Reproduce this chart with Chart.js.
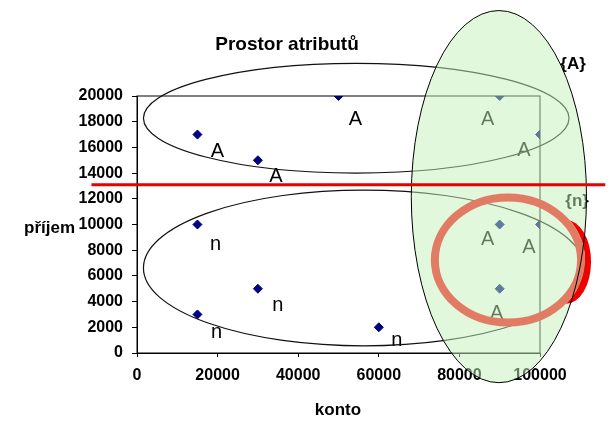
<!DOCTYPE html>
<html>
<head>
<meta charset="utf-8">
<script src="https://cdn.jsdelivr.net/npm/chart.js@4"></script>
<style>
  html, body { margin: 0; padding: 0; background: #fff; }
</style>
</head>
<body>
<canvas id="chart" width="616" height="438"></canvas>
<script>
// values
const kontoValues  = [15000, 30000, 50000, 90000, 100000, 15000, 15000, 30000, 60000, 90000, 100000, 90000];
const prijemValues = [17000, 15000, 20000, 20000, 17000, 10000, 3000, 5000, 2000, 10000, 10000, 5000];
const pointClasses = ['A', 'A', 'A', 'A', 'A', 'n', 'n', 'n', 'n', 'A', 'A', 'A'];
const xTickValues = [0, 20000, 40000, 60000, 80000, 100000];
const yTickValues = [0, 2000, 4000, 6000, 8000, 10000, 12000, 14000, 16000, 18000, 20000];

// label offsets from each point (px) and the drawn shapes (data units)
const labelOffsets = [[20, 22], [18, 22], [17, 29], [-12, 29], [-16, 21], [18, 25], [19, 24], [20, 22], [18, 19], [-12, 20], [-11, 28], [-3, 30]];
const clusterA = { cx: 54400, cy: 18270, rx: 52800, ry: 4270 };
const clusterN = { cx: 56300, cy: 6620, rx: 54700, ry: 6060 };
const selection = { cx: 89800, cy: 12170, rx: 21740, ry: 14480 };
const highlight = { cx: 92050, cy: 7240, rx: 18140, ry: 4870 };
const redMark = { cx: 106460, cy: 7090, rx: 6210, ry: 3260 };
const splitLine = { y: 13100, x0: -11300, x1: 116200 };

const sans = "'Liberation Sans', Arial, sans-serif";

const points = kontoValues.map((k, i) => ({ x: k, y: prijemValues[i] }));

function ellipsePath(ctx, x, y, e) {
  const cx = x.getPixelForValue(e.cx), cy = y.getPixelForValue(e.cy);
  const rx = Math.abs(x.getPixelForValue(e.cx + e.rx) - cx);
  const ry = Math.abs(y.getPixelForValue(e.cy + e.ry) - cy);
  ctx.beginPath();
  ctx.ellipse(cx, cy, rx, ry, 0, 0, Math.PI * 2);
  return { cx, cy, rx, ry };
}

const extras = {
  id: 'extras',
  afterDatasetsDraw(chart) {
    const { ctx, chartArea: a, scales: { x, y } } = chart;
    ctx.save();

    // plot frame
    ctx.strokeStyle = '#000';
    ctx.lineWidth = 1;
    ctx.strokeRect(a.left, a.top, a.right - a.left, a.bottom - a.top);

    // class letters beside points
    ctx.font = '20px ' + sans;
    ctx.fillStyle = '#000';
    ctx.textAlign = 'center';
    ctx.textBaseline = 'alphabetic';
    chart.getDatasetMeta(0).data.forEach((el, i) => {
      ctx.fillText(pointClasses[i], el.x + labelOffsets[i][0], el.y + labelOffsets[i][1]);
    });

    // cluster ellipses
    ctx.lineWidth = 1.2;
    ctx.strokeStyle = '#111';
    ellipsePath(ctx, x, y, clusterA); ctx.stroke();
    ellipsePath(ctx, x, y, clusterN); ctx.stroke();

    ctx.font = 'bold 17px ' + sans;
    ctx.fillStyle = '#000';
    ctx.textBaseline = 'middle';
    ctx.fillText('{A}', x.getPixelForValue(108200), y.getPixelForValue(22460));
    ctx.fillText('{n}', x.getPixelForValue(109200), y.getPixelForValue(11830));

    // selection ellipse fill (see-through)
    ellipsePath(ctx, x, y, selection);
    ctx.fillStyle = 'rgba(196, 241, 188, 0.5)';
    ctx.fill();

    // red crescent outside the ring
    ctx.save();
    const h = ellipsePath(ctx, x, y, highlight);
    ctx.beginPath();
    ctx.rect(0, 0, chart.width, chart.height);
    ctx.ellipse(h.cx, h.cy, h.rx + 4, h.ry + 4, 0, 0, Math.PI * 2);
    ctx.clip('evenodd');
    ellipsePath(ctx, x, y, redMark);
    ctx.fillStyle = '#ee0000';
    ctx.fill();
    ctx.restore();

    // salmon ring
    ellipsePath(ctx, x, y, highlight);
    ctx.strokeStyle = '#e27b64';
    ctx.lineWidth = 8;
    ctx.stroke();

    // selection outline
    ellipsePath(ctx, x, y, selection);
    ctx.strokeStyle = '#000';
    ctx.lineWidth = 1;
    ctx.stroke();

    // red split line
    ctx.beginPath();
    ctx.moveTo(x.getPixelForValue(splitLine.x0), y.getPixelForValue(splitLine.y));
    ctx.lineTo(x.getPixelForValue(splitLine.x1), y.getPixelForValue(splitLine.y));
    ctx.strokeStyle = '#e60000';
    ctx.lineWidth = 3;
    ctx.stroke();

    // titles
    ctx.fillStyle = '#000';
    ctx.textBaseline = 'alphabetic';
    ctx.font = 'bold 19px ' + sans;
    ctx.textAlign = 'center';
    ctx.fillText('Prostor atributů', 287, 50);
    ctx.font = 'bold 17px ' + sans;
    ctx.fillText('konto', 338, 415);
    ctx.textAlign = 'left';
    ctx.fillText('příjem', 24, 233);
    ctx.restore();
  }
};

new Chart(document.getElementById('chart'), {
  type: 'scatter',
  data: {
    datasets: [{
      data: points,
      pointStyle: 'rectRot',
      pointRadius: 4.5,
      pointBackgroundColor: '#000080',
      pointBorderColor: '#000080',
      pointBorderWidth: 1
    }]
  },
  options: {
    responsive: false,
    animation: false,
    layout: { padding: { left: 0, top: 96, right: 76, bottom: 0 } },
    plugins: { legend: { display: false }, title: { display: false }, tooltip: { enabled: false } },
    scales: {
      x: {
        type: 'linear',
        min: 0, max: 100000,
        afterFit: s => { s.height = 85; },
        afterBuildTicks: s => { s.ticks = xTickValues.map(v => ({ value: v })); },
        grid: { drawOnChartArea: false, color: '#000', tickLength: 4 },
        border: { color: '#000', width: 1 },
        ticks: { color: '#000', padding: 9, maxRotation: 0, font: { family: sans, size: 16, weight: 'bold' }, callback: v => String(v) }
      },
      y: {
        type: 'linear',
        min: 0, max: 20000,
        afterFit: s => { s.width = 137; },
        afterBuildTicks: s => { s.ticks = yTickValues.map(v => ({ value: v })); },
        grid: { drawOnChartArea: false, color: '#000', tickLength: 5 },
        border: { color: '#000', width: 1 },
        ticks: { color: '#000', padding: 9, font: { family: sans, size: 16, weight: 'bold' }, callback: v => String(v) }
      }
    }
  },
  plugins: [extras]
});
</script>
</body>
</html>
